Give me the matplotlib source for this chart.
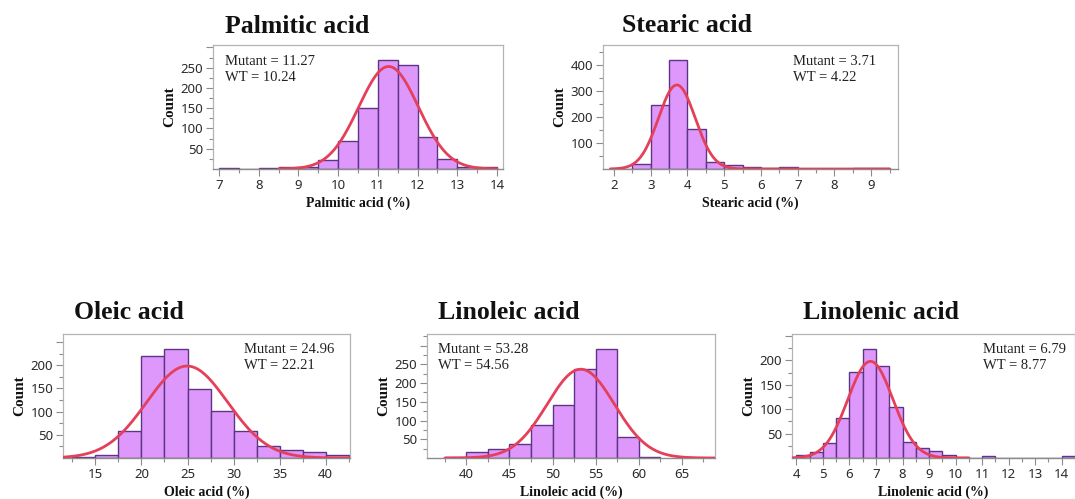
import numpy as np
import matplotlib
matplotlib.use("Agg")
import matplotlib.pyplot as plt

W, H = 1075, 499

# ---------------- data ----------------
titles = ["Palmitic acid", "Stearic acid", "Oleic acid", "Linoleic acid", "Linolenic acid"]
xlabels = ["Palmitic acid (%)", "Stearic acid (%)", "Oleic acid (%)", "Linoleic acid (%)", "Linolenic acid (%)"]
mutant_means = ["11.27", "3.71", "24.96", "53.28", "6.79"]
wt_means = ["10.24", "4.22", "22.21", "54.56", "8.77"]

palmitic_start, palmitic_bw = 7.0, 0.5
palmitic_counts = [3, 0, 3, 5, 5, 22, 70, 150, 269, 256, 78, 25, 5, 4]

stearic_start, stearic_bw = 2.0, 0.5
stearic_counts = [0, 19, 244, 418, 152, 28, 14, 7, 3, 6, 0, 0, 0, 2, 2]

oleic_start, oleic_bw = 12.5, 2.5
oleic_counts = [3, 7, 58, 219, 235, 149, 102, 58, 25, 18, 13, 6]

linoleic_start, linoleic_bw = 37.5, 2.5
linoleic_counts = [4, 16, 24, 38, 88, 142, 237, 292, 56, 3]

linolenic_start, linolenic_bw = 4.0, 0.5
linolenic_counts = [7, 12, 30, 81, 176, 224, 189, 104, 32, 21, 14, 6, 2, 0, 4,
                    0, 0, 0, 0, 0, 4]

# normal fit: mean, sd, peak height
fit_mu = [11.27, 3.71, 24.96, 53.28, 6.79]
fit_sd = [0.75, 0.50, 4.4, 3.9, 0.85]
fit_peak = [253, 322, 198, 237, 198]
fit_range = [(8.5, 14.0), (1.9, 9.5), (11.4, 42.7), (37.5, 68.9), (3.85, 10.5)]

# ---------------- layout ----------------
starts = [palmitic_start, stearic_start, oleic_start, linoleic_start, linolenic_start]
bws = [palmitic_bw, stearic_bw, oleic_bw, linoleic_bw, linolenic_bw]
counts = [palmitic_counts, stearic_counts, oleic_counts, linoleic_counts, linolenic_counts]

boxes = [(213, 503, 45, 169), (603, 898, 45, 169), (63, 350, 334, 458),
         (427, 715, 334, 458), (792, 1075, 334, 458)]
xlims = [(6.85, 14.15), (1.7, 9.73), (11.48, 42.64), (35.42, 68.87), (3.835, 14.5)]
ylims = [(0, 306), (0, 475), (0, 267), (0, 331), (0, 254)]
xmajor = [np.arange(7, 15, 1), np.arange(2, 10, 1), np.arange(15, 41, 5),
          np.arange(40, 66, 5), np.arange(4, 15, 1)]
ylab_ticks = [[50, 100, 150, 200, 250], [100, 200, 300, 400], [50, 100, 150, 200],
              [50, 100, 150, 200, 250], [50, 100, 150, 200]]
ystep = [50, 100, 50, 50, 50]
title_pos = [(225, 33), (622, 32), (74, 319), (438, 319), (803, 319)]
annot_pos = [(225, 65), (793, 65), (244, 353), (438, 353), (983, 353)]

SERIF = ["Liberation Serif", "DejaVu Serif"]
SANS = ["Noto Sans", "DejaVu Sans"]
FILL = "#DE98FC"
EDGE = "#5E3585"
CURVE = "#E5405A"
FRAME = "#B4B4B4"
AXIS = "#8C8C8C"

fig = plt.figure(figsize=(W / 100, H / 100), dpi=100)


def fx(px):
    return px / W


def fy(py):
    return 1 - py / H


for i in range(5):
    l, r, t, b = boxes[i]
    ax = fig.add_axes([fx(l), fy(b), (r - l) / W, (b - t) / H])
    n = len(counts[i])
    edges = starts[i] + bws[i] * np.arange(n)
    ax.bar(edges, counts[i], width=bws[i], align="edge", color=FILL,
           edgecolor=EDGE, linewidth=1.0, zorder=2)
    xs = np.linspace(fit_range[i][0], fit_range[i][1], 400)
    ys = fit_peak[i] * np.exp(-0.5 * ((xs - fit_mu[i]) / fit_sd[i]) ** 2)
    ax.plot(xs, ys, color=CURVE, lw=2.0, zorder=3, solid_capstyle="round")
    ax.set_xlim(*xlims[i])
    ax.set_ylim(*ylims[i])

    # ticks
    ax.set_xticks(xmajor[i])
    ax.set_xticklabels([str(v) for v in xmajor[i]], fontfamily=SANS, fontsize=9.5, color="#2a2a2a")
    step = xmajor[i][1] - xmajor[i][0]
    xminor = np.concatenate([[xmajor[i][0] - step / 2.0], xmajor[i][:-1] + step / 2.0,
                             [xmajor[i][-1] + step / 2.0]])
    xminor = [v for v in xminor if xlims[i][0] <= v <= xlims[i][1]]
    ax.set_xticks(xminor, minor=True)

    ymaj = [v for v in np.arange(ystep[i], ylims[i][1], ystep[i])]
    ax.set_yticks(ymaj)
    ax.set_yticklabels([str(int(v)) if v in ylab_ticks[i] else "" for v in ymaj],
                       fontfamily=SANS, fontsize=9.5, color="#2a2a2a")
    ymin = [v + ystep[i] / 2.0 for v in np.arange(0, ylims[i][1], ystep[i])]
    ymin = [v for v in ymin if v < ylims[i][1]]
    ax.set_yticks(ymin, minor=True)
    ax.tick_params(axis="both", which="major", length=5, width=0.8, color=AXIS, pad=2)
    ax.tick_params(axis="both", which="minor", length=3, width=0.8, color=AXIS)

    for s in ["top", "right", "left"]:
        ax.spines[s].set_color(FRAME)
        ax.spines[s].set_linewidth(0.9)
    ax.spines["bottom"].set_color(AXIS)
    ax.spines["bottom"].set_linewidth(1.0)

    # labels
    fig.text(fx((l + r) / 2.0), fy(b + 38), xlabels[i], ha="center", va="baseline",
             fontfamily=SERIF, fontweight="bold", fontsize=10, color="#111111")
    fig.text(fx(l - 43), fy((t + b) / 2.0), "Count", ha="center", va="center",
             rotation=90, fontfamily=SERIF, fontweight="bold", fontsize=11, color="#111111")
    tx, ty = title_pos[i]
    fig.text(fx(tx), fy(ty), titles[i], ha="left", va="baseline",
             fontfamily=SERIF, fontweight="bold", fontsize=18.5, color="#111111")
    axp, ayp = annot_pos[i]
    fig.text(fx(axp), fy(ayp), "Mutant = " + mutant_means[i], ha="left", va="baseline",
             fontfamily=SERIF, fontsize=10.5, color="#222222")
    fig.text(fx(axp), fy(ayp + 16), "WT = " + wt_means[i], ha="left", va="baseline",
             fontfamily=SERIF, fontsize=10.5, color="#222222")

fig.savefig("out.png", dpi=100)
